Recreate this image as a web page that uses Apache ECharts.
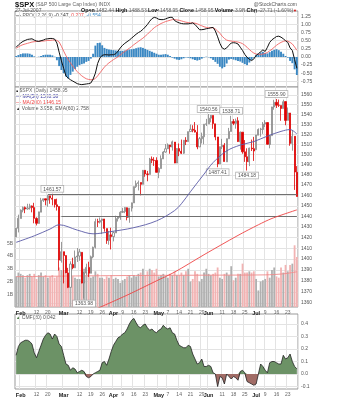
<!DOCTYPE html>
<html>
<head>
<meta charset="utf-8">
<script src="https://cdn.jsdelivr.net/npm/echarts@6/dist/echarts.min.js"></script>
<style>
html, body { margin: 0; padding: 0; background: #fff; }
#chart { width: 354px; height: 400px; }
</style>
</head>
<body>
<div id="chart"></div>
<script>
// trading days, 2007
var dates = ['01-30','01-31',
  '02-01','02-02','02-05','02-06','02-07','02-08','02-09','02-12','02-13','02-14','02-15','02-16','02-20','02-21','02-22','02-23','02-26','02-27','02-28',
  '03-01','03-02','03-05','03-06','03-07','03-08','03-09','03-12','03-13','03-14','03-15','03-16','03-19','03-20','03-21','03-22','03-23','03-26','03-27','03-28','03-29','03-30',
  '04-02','04-03','04-04','04-05','04-09','04-10','04-11','04-12','04-13','04-16','04-17','04-18','04-19','04-20','04-23','04-24','04-25','04-26','04-27','04-30',
  '05-01','05-02','05-03','05-04','05-07','05-08','05-09','05-10','05-11','05-14','05-15','05-16','05-17','05-18','05-21','05-22','05-23','05-24','05-25','05-29','05-30','05-31',
  '06-01','06-04','06-05','06-06','06-07','06-08','06-11','06-12','06-13','06-14','06-15','06-18','06-19','06-20','06-21','06-22','06-25','06-26','06-27','06-28','06-29',
  '07-02','07-03','07-05','07-06','07-09','07-10','07-11','07-12','07-13','07-16','07-17','07-18','07-19','07-20','07-23','07-24','07-25','07-26','07-27'];

// [open, high, low, close]
var candles = [
  [1420.6,1428.8,1420.4,1428.8],[1428.7,1441.6,1424.8,1438.2],
  [1437.9,1446.6,1437.9,1445.9],[1445.9,1449.3,1443.8,1448.4],[1448.3,1449.4,1443.0,1447.0],[1447.0,1452.0,1446.4,1448.0],
  [1448.0,1452.0,1446.4,1450.0],[1449.9,1450.4,1443.8,1448.3],[1448.3,1452.9,1433.4,1438.1],[1438.0,1439.1,1431.4,1433.4],
  [1433.2,1444.4,1433.2,1444.3],[1443.9,1457.7,1443.9,1455.3],[1455.2,1457.0,1453.7,1456.8],[1456.8,1456.8,1450.5,1455.5],
  [1455.5,1460.5,1449.2,1459.7],[1459.6,1459.6,1452.0,1457.6],[1457.3,1461.57,1450.5,1456.4],[1456.2,1456.2,1448.4,1451.2],
  [1451.0,1456.9,1445.5,1449.4],[1449.3,1449.3,1389.4,1399.0],[1398.6,1415.9,1396.7,1406.8],
  [1406.8,1406.8,1377.7,1403.2],[1403.2,1403.4,1386.9,1387.2],[1387.1,1391.9,1373.4,1374.1],[1374.1,1397.9,1374.1,1395.4],
  [1395.0,1401.2,1390.6,1392.0],[1391.9,1407.9,1391.9,1401.9],[1401.9,1410.2,1397.3,1402.8],[1402.8,1409.3,1398.4,1406.6],
  [1406.2,1406.2,1377.7,1378.0],[1377.9,1388.1,1363.98,1387.2],[1387.1,1395.7,1385.2,1392.3],[1392.3,1397.5,1383.6,1387.0],
  [1386.9,1403.2,1386.9,1402.1],[1402.0,1411.5,1400.7,1410.9],[1410.9,1437.8,1409.8,1435.0],[1435.0,1437.7,1429.9,1434.5],
  [1434.5,1438.9,1433.2,1436.1],[1436.1,1437.7,1423.3,1437.5],[1437.5,1437.5,1425.5,1428.6],[1428.4,1428.4,1414.1,1417.2],
  [1417.2,1426.2,1413.3,1422.5],[1422.5,1429.2,1408.9,1420.9],
  [1420.8,1425.5,1416.4,1424.6],[1424.3,1440.6,1424.3,1437.8],[1437.8,1440.2,1435.1,1439.4],[1438.9,1444.9,1436.7,1443.8],
  [1443.8,1448.1,1443.3,1444.6],[1444.6,1448.7,1443.0,1448.4],[1448.2,1448.4,1436.2,1438.9],[1438.9,1448.0,1433.9,1447.8],
  [1447.8,1453.1,1444.6,1452.9],[1452.8,1468.6,1452.8,1468.5],[1468.5,1474.4,1467.2,1471.5],[1471.5,1474.4,1464.8,1472.5],
  [1472.5,1472.5,1460.1,1470.7],[1470.7,1484.7,1470.7,1484.4],[1484.4,1484.4,1478.1,1480.9],[1480.9,1483.8,1473.7,1480.4],
  [1480.3,1496.6,1480.3,1495.4],[1495.4,1498.0,1491.4,1494.3],[1494.2,1497.3,1488.7,1494.1],[1494.1,1497.2,1482.3,1482.4],
  [1482.4,1487.3,1476.7,1486.3],[1486.1,1499.1,1486.1,1495.9],[1495.6,1503.3,1495.6,1502.4],[1502.4,1510.3,1501.8,1505.6],
  [1505.6,1511.0,1505.5,1509.5],[1509.4,1509.4,1500.7,1507.7],[1507.3,1513.8,1503.8,1512.6],[1512.3,1512.3,1491.4,1491.5],
  [1491.5,1506.2,1491.5,1505.9],[1505.8,1510.9,1498.3,1503.2],[1503.1,1514.8,1500.4,1501.2],[1501.2,1514.2,1500.5,1514.1],
  [1514.0,1517.2,1509.3,1512.8],[1512.7,1522.8,1512.7,1522.8],[1522.8,1529.9,1522.7,1525.1],[1525.1,1529.2,1522.1,1524.1],
  [1524.1,1532.4,1521.9,1522.3],[1522.1,1529.3,1505.2,1507.5],[1507.5,1517.4,1507.5,1515.7],[1515.6,1521.8,1510.9,1518.1],
  [1517.6,1530.2,1510.1,1530.2],[1530.2,1535.6,1528.4,1530.6],
  [1530.6,1540.56,1530.6,1536.3],[1536.3,1539.5,1532.1,1539.2],[1539.1,1539.1,1525.6,1530.9],[1530.6,1530.6,1514.1,1517.4],
  [1517.4,1517.4,1487.41,1490.7],[1490.7,1507.8,1490.5,1507.7],[1507.6,1515.5,1505.4,1509.1],[1509.1,1511.3,1492.9,1493.0],
  [1492.7,1515.7,1492.7,1515.7],[1515.6,1526.5,1515.6,1523.0],[1522.9,1538.71,1522.9,1532.9],[1532.9,1535.4,1529.3,1531.1],
  [1531.0,1535.9,1525.7,1533.7],[1533.7,1537.3,1512.4,1512.8],[1512.5,1522.9,1504.8,1522.2],[1522.2,1522.2,1500.7,1502.6],
  [1502.6,1514.3,1492.7,1497.7],[1497.7,1506.1,1484.18,1492.9],[1492.6,1506.8,1488.5,1506.3],[1506.3,1514.8,1503.4,1505.7],
  [1505.7,1517.5,1493.6,1503.4],
  [1504.7,1519.5,1504.7,1519.4],[1519.1,1526.0,1519.1,1524.9],[1524.9,1526.6,1517.7,1525.4],[1524.9,1532.4,1520.5,1530.4],
  [1530.4,1534.3,1527.4,1531.9],[1531.9,1531.9,1510.0,1510.1],[1509.9,1519.3,1506.1,1518.8],[1518.7,1547.9,1518.7,1547.7],
  [1547.7,1555.1,1544.9,1552.5],[1552.5,1555.9,1546.7,1549.5],[1549.5,1555.3,1547.7,1549.4],[1549.2,1549.2,1533.7,1546.2],
  [1546.1,1555.2,1546.1,1553.1],[1553.2,1553.2,1529.2,1534.1],[1534.1,1547.2,1534.1,1541.6],[1541.6,1541.6,1508.6,1511.0],
  [1511.0,1524.3,1503.7,1518.1],[1518.1,1518.1,1465.3,1482.7],[1482.44,1488.53,1458.95,1458.95]
];

// volume, billions
var volume = [2.4,2.7,
  2.6,2.5,2.3,2.5,2.6,2.4,2.6,2.2,2.5,2.7,2.4,2.5,2.3,2.4,2.5,2.3,2.4,3.1,2.9,
  2.9,2.6,2.7,2.5,2.4,2.3,2.2,2.2,2.9,3.0,2.5,2.7,2.3,2.4,2.8,2.6,2.3,2.3,2.2,2.4,2.3,2.5,
  2.2,2.3,2.2,1.9,2.1,2.2,2.4,2.5,2.3,2.5,2.4,2.6,2.7,3.0,2.5,2.8,3.0,2.9,2.7,3.0,
  2.4,2.5,2.6,2.4,2.3,2.6,2.5,2.8,2.5,2.5,2.7,2.5,2.8,3.0,2.0,2.2,2.8,2.6,2.0,2.2,2.7,3.0,
  2.6,2.5,2.6,2.7,3.1,2.3,2.2,2.6,2.7,2.5,3.2,2.1,2.3,2.6,2.6,3.4,2.7,2.7,2.8,2.7,2.8,
  2.2,1.3,2.0,2.1,2.2,2.8,2.3,2.9,3.1,2.4,2.3,3.1,2.7,3.3,2.8,3.3,3.4,4.84,3.92];
var volEma = [[0,2.38],[30,2.44],[60,2.48],[90,2.5],[110,2.52],[118,2.6],[124,2.76]];

// moving averages, [day index, price]
var ma50 = [[0,1415.5],[8,1421.6],[15,1428],[19,1432],[27,1427],[34,1423.5],[41,1425.3],[52,1429.3],[62,1435.7],
  [70,1445.5],[73,1452],[77,1463.6],[83,1480.7],[87,1492],[93,1503.5],[99,1509.3],[105,1512.8],[111,1518.3],
  [117,1523],[121,1524.8],[124,1520.38]];
var ma200 = [[20,1343],[30,1350],[38,1357],[50,1368],[62,1380],[70,1388],[83,1404],[98,1422],[107,1432],[113,1438],[124,1446.15]];

var ppo = [0.30,0.37,0.43,0.48,0.51,0.54,0.55,0.56,0.52,0.49,
  0.48,0.50,0.52,0.55,0.56,0.57,0.57,0.55,0.43,0.15,
  -0.12,-0.35,-0.58,-0.65,-0.70,-0.74,-0.78,-0.82,-0.84,-0.85,
  -0.84,-0.83,-0.82,-0.80,-0.68,-0.50,-0.20,-0.03,0.05,0.07,
  0.07,0.06,0.07,0.07,0.10,0.18,0.28,0.36,0.42,0.47,
  0.52,0.58,0.64,0.70,0.75,0.79,0.85,0.92,1.00,1.10,
  1.18,1.22,1.20,1.16,1.15,1.15,1.17,1.20,1.22,1.22,
  1.12,1.08,1.05,1.03,1.02,1.02,1.02,1.03,1.05,1.00,
  0.92,0.84,0.84,0.85,0.87,0.88,0.90,0.91,0.80,0.62,
  0.42,0.28,0.24,0.28,0.36,0.43,0.44,0.43,0.40,0.30,
  0.20,0.08,-0.01,-0.07,-0.11,-0.06,0.05,0.10,0.16,0.22,
  0.17,0.30,0.45,0.53,0.58,0.63,0.64,0.61,0.56,0.50,
  0.45,0.28,0.20,-0.08,-0.347];
var ppoSignal = [0.27,0.31,0.35,0.38,0.40,0.42,0.44,0.46,0.47,0.48,
  0.48,0.49,0.49,0.50,0.51,0.51,0.52,0.52,0.51,0.46,
  0.33,0.18,0.04,-0.08,-0.18,-0.28,-0.37,-0.45,-0.52,-0.58,
  -0.63,-0.67,-0.69,-0.70,-0.70,-0.66,-0.58,-0.49,-0.40,-0.31,
  -0.24,-0.18,-0.13,-0.08,-0.04,0.01,0.06,0.12,0.17,0.22,
  0.27,0.32,0.38,0.43,0.48,0.53,0.58,0.64,0.70,0.77,
  0.84,0.90,0.95,0.99,1.03,1.06,1.09,1.11,1.13,1.15,
  1.15,1.14,1.13,1.11,1.09,1.07,1.06,1.05,1.05,1.04,
  1.02,0.99,0.96,0.93,0.91,0.90,0.90,0.90,0.86,0.80,
  0.73,0.64,0.57,0.52,0.50,0.49,0.48,0.47,0.46,0.44,
  0.41,0.36,0.30,0.23,0.17,0.12,0.09,0.08,0.08,0.09,
  0.11,0.14,0.19,0.24,0.30,0.36,0.41,0.45,0.48,0.50,
  0.49,0.45,0.40,0.31,0.207];
var ppoHist = [0.03,0.06,0.09,0.11,0.11,0.11,0.10,0.07,0.02,0.00,
  0.01,0.03,0.06,0.07,0.07,0.07,0.05,0.01,-0.10,-0.28,
  -0.40,-0.50,-0.60,-0.66,-0.55,-0.45,-0.37,-0.30,-0.25,-0.22,
  -0.20,-0.15,-0.12,-0.05,0.10,0.35,0.43,0.44,0.36,0.28,
  0.25,0.23,0.22,0.21,0.20,0.19,0.19,0.19,0.20,0.21,
  0.23,0.24,0.25,0.27,0.29,0.30,0.28,0.25,0.22,0.19,
  0.16,0.13,0.10,0.07,0.07,0.08,0.09,0.07,0.03,-0.02,
  -0.05,-0.08,-0.09,-0.07,-0.04,-0.01,-0.02,-0.04,-0.07,-0.09,
  -0.11,-0.09,-0.05,-0.01,0.01,-0.01,-0.04,-0.09,-0.15,-0.21,
  -0.30,-0.35,-0.31,-0.20,-0.08,-0.06,-0.08,-0.10,-0.12,-0.14,
  -0.18,-0.22,-0.25,-0.17,-0.09,-0.02,0.06,0.10,0.14,0.16,
  0.12,0.11,0.15,0.19,0.22,0.24,0.21,0.16,0.10,0.03,
  -0.02,-0.12,-0.19,-0.38,-0.554];

var cmf = [0.15,0.22,0.25,0.26,0.27,0.27,0.26,0.24,0.17,0.13,
  0.18,0.23,0.28,0.31,0.33,0.32,0.28,0.32,0.30,0.24,
  0.22,0.15,0.08,0.07,0.03,0.05,0.04,0.01,0.02,0.03,
  0.02,-0.02,-0.03,-0.02,0.00,0.01,0.02,0.03,0.09,0.10,
  0.07,0.12,0.18,0.23,0.26,0.29,0.30,0.32,0.33,0.36,
  0.40,0.43,0.445,0.41,0.38,0.37,0.39,0.40,0.37,0.35,
  0.36,0.34,0.33,0.35,0.36,0.39,0.37,0.36,0.37,0.33,
  0.32,0.27,0.23,0.22,0.21,0.21,0.23,0.22,0.16,0.12,
  0.08,0.09,0.12,0.06,0.06,0.07,0.06,0.01,0.00,-0.10,
  -0.02,-0.03,-0.08,0.00,-0.02,-0.04,-0.02,-0.03,-0.05,0.02,
  0.03,0.01,-0.06,-0.07,-0.08,-0.09,-0.08,0.00,0.08,0.06,
  0.03,0.01,0.09,0.10,0.10,0.09,0.08,0.08,0.15,0.12,
  0.13,0.16,0.10,0.06,0.042];

var priceTicks = [1360,1370,1380,1390,1400,1410,1420,1430,1440,1450,1460,1470,1480,1490,1500,1510,1520,1530,1540,1550,1560];
var ppoTicks = [-0.75,-0.5,-0.25,0,0.25,0.5,0.75,1,1.25];
var cmfTicks = [-0.1,0,0.1,0.2,0.3,0.4];
var xTicks = [['02-01','Feb'],['02-12','12'],['02-20','20'],['03-01','Mar'],['03-12','12'],['03-19','19'],['03-26','26'],
  ['04-02','Apr'],['04-09','9'],['04-16','16'],['04-23','23'],['05-01','May'],['05-07','7'],['05-14','14'],['05-21','21'],
  ['05-29','29'],['06-01','Jun'],['06-11','11'],['06-18','18'],['06-25','25'],['07-02','Jul'],['07-09','9'],['07-16','16'],['07-23','23']];

// annotated highs / lows: [day index, price, side]
var notes = [[16,1461.57,'top'],[30,1363.98,'bottom'],[85,1540.56,'top'],[89,1487.41,'bottom'],
  [95,1538.71,'top'],[102,1484.18,'bottom'],[115,1555.90,'top']];
// horizontal lines: [start index, price]
var levels = [[14,1461.57],[20,1440]];

var chart = echarts.init(document.getElementById('chart'));
var ln = Math.log;
var FONT = 'Liberation Sans, Arial, sans-serif';
var tickMap = {};
xTicks.forEach(function (t) { tickMap[t[0]] = t[1]; });
var monthNames = { Feb: 1, Mar: 1, Apr: 1, May: 1, Jun: 1, Jul: 1 };
function onTick(i, v) { return tickMap[v] !== undefined; }

function makeX(gridIndex, labels, grid) {
    return {
        type: 'category', gridIndex: gridIndex, data: dates, boundaryGap: true,
        axisLine: { show: false }, axisTick: { show: false },
        axisLabel: {
            show: labels, interval: onTick, margin: 3,
            fontSize: 5, color: '#666', fontFamily: FONT,
            formatter: function (v) {
                var t = tickMap[v] || '';
                return monthNames[t] ? '{m|' + t + '}' : t;
            },
            rich: { m: { fontSize: 5.5, fontWeight: 'bold', color: '#222', fontFamily: FONT } }
        },
        splitLine: { show: grid, interval: onTick, lineStyle: { color: '#e3e3e3', width: 1 } }
    };
}

function makeY(gridIndex, min, max, ticks, fmt) {
    return {
        type: 'value', gridIndex: gridIndex, position: 'right', min: min, max: max,
        axisLine: { show: false },
        axisTick: { show: false, customValues: ticks },
        axisLabel: { customValues: ticks, formatter: fmt, fontSize: 5, color: '#555', margin: 3, fontFamily: FONT },
        splitLine: { show: true, lineStyle: { color: '#e3e3e3', width: 1 } }
    };
}

var gridBase = { left: 15, right: 56, show: true, borderColor: '#999', borderWidth: 1, backgroundColor: '#fff' };

// CMF drawn as a green area above zero and a brown one below it
var cmfUp = cmf.map(function (v) { return v > 0 ? v : 0; });
var cmfDown = cmf.map(function (v) { return v < 0 ? v : 0; });

option = {
    animation: false,
    backgroundColor: '#fff',
    textStyle: { fontFamily: FONT },
    grid: [
        Object.assign({ top: 11, height: 76 }, gridBase),
        Object.assign({ top: 87, height: 220 }, gridBase),
        { left: 15, right: 56, top: 230.5, height: 76.5, show: false },
        Object.assign({ top: 314, height: 75 }, gridBase)
    ],
    xAxis: [
        makeX(0, false, true),
        makeX(1, true, true),
        makeX(2, false, false),
        makeX(3, true, true)
    ],
    yAxis: [
        makeY(0, -0.923, 1.415, ppoTicks, function (v) { return v.toFixed(2); }),
        makeY(1, ln(1356.4), ln(1568.25), priceTicks.map(ln), function (v) { return Math.round(Math.exp(v)); }),
        {
            type: 'value', gridIndex: 2, position: 'left', min: 0, max: 6, interval: 1,
            axisLine: { show: false }, axisTick: { show: false }, splitLine: { show: false },
            axisLabel: { fontSize: 5, color: '#666', margin: 2, fontFamily: FONT,
                formatter: function (v) { return (v > 0 && v < 6) ? v + 'B' : ''; } }
        },
        makeY(3, -0.12, 0.48, cmfTicks, function (v) { return v.toFixed(1); })
    ],
    series: [
        {
            type: 'bar', xAxisIndex: 0, yAxisIndex: 0, data: ppoHist, barWidth: '85%',
            itemStyle: { color: '#3b88c3' }
        },
        {
            type: 'line', xAxisIndex: 0, yAxisIndex: 0, data: ppoSignal, symbol: 'none',
            lineStyle: { color: '#f06464', width: 0.9 }
        },
        {
            type: 'line', xAxisIndex: 0, yAxisIndex: 0, data: ppo, symbol: 'none',
            lineStyle: { color: '#111', width: 1 }
        },
        {
            type: 'bar', xAxisIndex: 2, yAxisIndex: 2, data: volume, barWidth: '80%', z: 1,
            itemStyle: {
                color: function (p) {
                    var i = p.dataIndex;
                    var prev = i > 0 ? candles[i - 1][3] : candles[i][0];
                    return candles[i][3] >= prev ? '#b0b0b0' : '#f2b3b3';
                }
            }
        },
        {
            type: 'line', xAxisIndex: 2, yAxisIndex: 2, data: volEma, symbol: 'none', z: 2,
            smooth: 0.3, lineStyle: { color: '#ef8a8a', width: 0.9 }
        },
        {
            type: 'candlestick', xAxisIndex: 1, yAxisIndex: 1, z: 4, barWidth: '72%',
            data: candles.map(function (c) { return [ln(c[0]), ln(c[3]), ln(c[2]), ln(c[1])]; }),
            itemStyle: { color: '#fff', color0: '#dd0000', borderColor: '#808080', borderColor0: '#dd0000', borderWidth: 0.8 },
            markLine: {
                silent: true, symbol: 'none', label: { show: false },
                lineStyle: { color: '#707070', width: 1, type: 'solid' },
                data: levels.map(function (l) {
                    return [{ coord: [dates[l[0]], ln(l[1])] }, { coord: [dates[dates.length - 1], ln(l[1])] }];
                })
            },
            markPoint: {
                silent: true, symbol: 'circle', symbolSize: 0,
                data: notes.map(function (n) {
                    return {
                        coord: [dates[n[0]], ln(n[1])], value: n[1].toFixed(2),
                        label: { position: n[2], distance: 2 }
                    };
                }),
                label: {
                    show: true, formatter: '{c}', fontSize: 5, color: '#555', fontFamily: FONT,
                    backgroundColor: '#fff', borderColor: '#aaa', borderWidth: 0.7, padding: [1, 2, 0, 2]
                }
            }
        },
        {
            type: 'line', xAxisIndex: 1, yAxisIndex: 1, z: 5, symbol: 'none', smooth: 0.35,
            data: ma50.map(function (p) { return [p[0], ln(p[1])]; }),
            lineStyle: { color: '#5a5aa6', width: 0.9 }
        },
        {
            type: 'line', xAxisIndex: 1, yAxisIndex: 1, z: 5, symbol: 'none', smooth: 0.3,
            data: ma200.map(function (p) { return [p[0], ln(p[1])]; }),
            lineStyle: { color: '#ee4444', width: 0.9 }
        },
        {
            type: 'line', xAxisIndex: 3, yAxisIndex: 3, data: cmfUp, symbol: 'none',
            lineStyle: { width: 0 }, areaStyle: { color: '#6c9266', opacity: 1 }
        },
        {
            type: 'line', xAxisIndex: 3, yAxisIndex: 3, data: cmfDown, symbol: 'none',
            lineStyle: { width: 0 }, areaStyle: { color: '#a16c66', opacity: 1 }
        },
        {
            type: 'line', xAxisIndex: 3, yAxisIndex: 3, data: cmf, symbol: 'none', z: 3,
            lineStyle: { color: '#222', width: 0.8 }
        }
    ],
    graphic: { elements: [
        { type: 'text', x: 15, y: 5, style: { text: '{t|$SPX} (S&P 500 Large Cap Index) INDX', fill: '#666', fontSize: 5, fontFamily: FONT, verticalAlign: 'middle',
            rich: { t: { fontSize: 7.5, fontWeight: 'bold', fill: '#111', fontFamily: FONT } } } },
        { type: 'text', x: 297, y: 5, style: { text: '@StockCharts.com', fill: '#555', fontSize: 5, fontFamily: FONT, align: 'right', verticalAlign: 'middle' } },
        { type: 'text', x: 15, y: 10.5, style: { text: '27-Jul-2007', fill: '#555', fontSize: 5, fontFamily: FONT, verticalAlign: 'middle' } },
        { type: 'text', x: 297, y: 10.5, style: {
            text: '{b|Open} 1482.44 {b|High} 1488.53 {b|Low} 1458.95 {b|Close} 1458.95 {b|Volume} 3.9B {b|Chg} -23.71 (-1.60%){r|\u25BC}',
            fill: '#666', fontSize: 5, fontFamily: FONT, align: 'right', verticalAlign: 'middle',
            rich: { b: { fontWeight: 'bold', fill: '#111', fontSize: 5.3, fontFamily: FONT }, r: { fill: '#d00', fontSize: 4 } } } },
        { type: 'text', x: 16, y: 15.5, style: {
            text: '{k|\u2014} PPO(12,26,9) {a|-0.347,} {r|0.207,} {u|-0.554}',
            fill: '#666', fontSize: 5, fontFamily: FONT, verticalAlign: 'middle',
            rich: { k: { fill: '#111', fontSize: 5 }, a: { fill: '#333', fontSize: 5 }, r: { fill: '#e44', fontSize: 5 }, u: { fill: '#3b88c3', fontSize: 5 } } } },
        { type: 'text', x: 16, y: 91, style: { text: '{k|\u25AA} $SPX (Daily) 1458.95', fill: '#666', fontSize: 5, fontFamily: FONT, verticalAlign: 'middle',
            rich: { k: { fill: '#111', fontSize: 6 } } } },
        { type: 'text', x: 16, y: 97, style: { text: '{k|\u2014} MA(50) 1520.38', fill: '#3a3aa0', fontSize: 5, fontFamily: FONT, verticalAlign: 'middle',
            rich: { k: { fill: '#3a3aa0', fontSize: 5 } } } },
        { type: 'text', x: 16, y: 103, style: { text: '{k|\u2014} MA(200) 1446.15', fill: '#e44', fontSize: 5, fontFamily: FONT, verticalAlign: 'middle',
            rich: { k: { fill: '#e44', fontSize: 5 } } } },
        { type: 'text', x: 16, y: 108.5, style: { text: '{k|\u25B2} Volume 3.958, EMA(60) 2.758', fill: '#555', fontSize: 5, fontFamily: FONT, verticalAlign: 'middle',
            rich: { k: { fill: '#333', fontSize: 4.5 } } } },
        { type: 'text', x: 16, y: 317.5, style: { text: '{k|\u25B2} CMF(20) 0.042', fill: '#555', fontSize: 5, fontFamily: FONT, verticalAlign: 'middle',
            rich: { k: { fill: '#4d7a47', fontSize: 4.5 } } } }
    ] }
};

chart.setOption(option);
window.addEventListener('resize', function () {
    chart.resize();
});
</script>
</body>
</html>
